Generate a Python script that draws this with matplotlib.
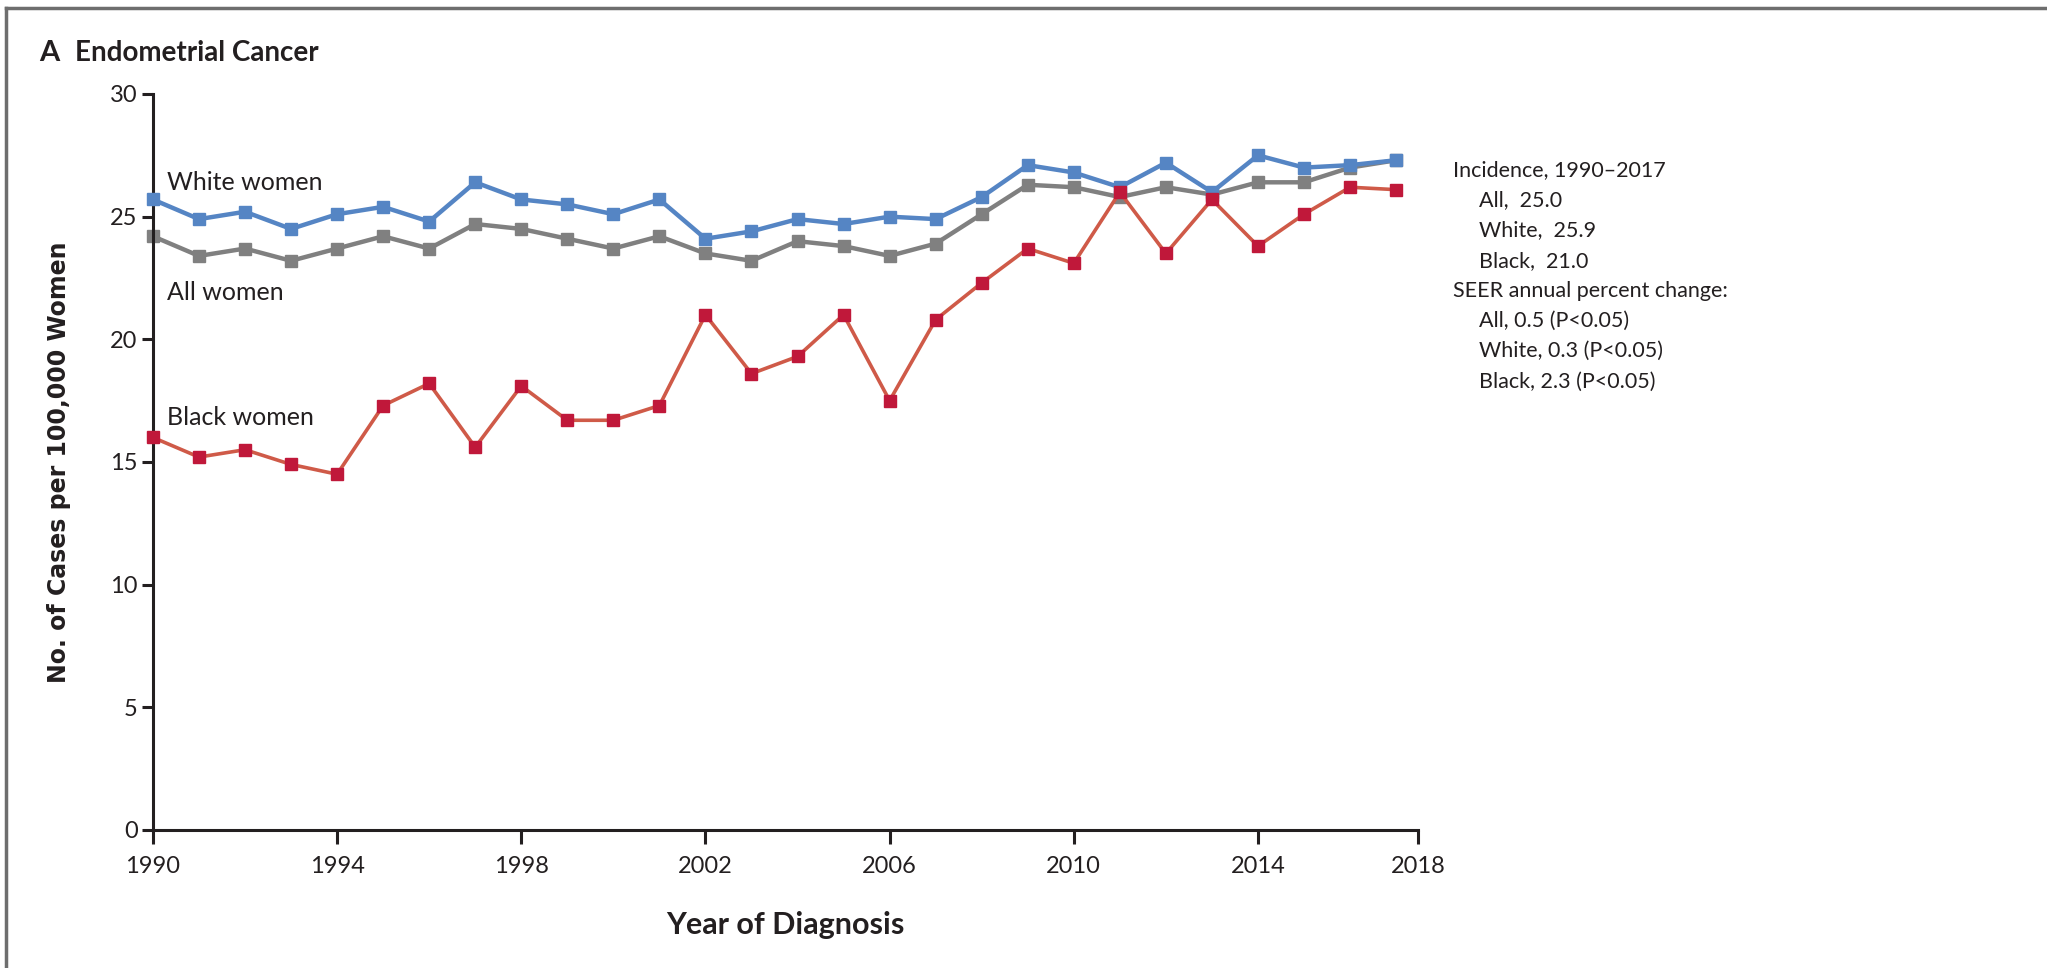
import matplotlib
matplotlib.use("Agg")
import matplotlib.pyplot as plt
from matplotlib import font_manager as fm
from matplotlib.lines import Line2D

years = list(range(1990, 2018))

white = [25.7, 24.9, 25.2, 24.5, 25.1, 25.4, 24.8, 26.4, 25.7, 25.5,
         25.1, 25.7, 24.1, 24.4, 24.9, 24.7, 25.0, 24.9, 25.8, 27.1,
         26.8, 26.2, 27.2, 26.0, 27.5, 27.0, 27.1, 27.3]
all_women = [24.2, 23.4, 23.7, 23.2, 23.7, 24.2, 23.7, 24.7, 24.5, 24.1,
             23.7, 24.2, 23.5, 23.2, 24.0, 23.8, 23.4, 23.9, 25.1, 26.3,
             26.2, 25.8, 26.2, 25.9, 26.4, 26.4, 27.0, 27.3]
black = [16.0, 15.2, 15.5, 14.9, 14.5, 17.3, 18.2, 15.6, 18.1, 16.7,
         16.7, 17.3, 21.0, 18.6, 19.3, 21.0, 17.5, 20.8, 22.3, 23.7,
         23.1, 26.0, 23.5, 25.7, 23.8, 25.1, 26.2, 26.1]

xtick_pos = [1990, 1994, 1998, 2002, 2006, 2010, 2014, 2017.47]
xtick_labels = ["1990", "1994", "1998", "2002", "2006", "2010", "2014", "2018"]
yticks = [0, 5, 10, 15, 20, 25, 30]

legend_lines = [
    ("Incidence, 1990\u20132017", 0),
    ("All,  25.0", 1),
    ("White,  25.9", 1),
    ("Black,  21.0", 1),
    ("SEER annual percent change:", 0),
    ("All, 0.5 (P<0.05)", 1),
    ("White, 0.3 (P<0.05)", 1),
    ("Black, 2.3 (P<0.05)", 1),
]


def pick_font(names):
    for n in names:
        try:
            fm.findfont(fm.FontProperties(family=n), fallback_to_default=False)
            return n
        except Exception:
            pass
    return "DejaVu Sans"


body = pick_font(["Liberation Sans Narrow", "Lato", "Open Sans"])
plt.rcParams["font.family"] = [body, "DejaVu Sans"]

txt = "#231f20"
blue = "#5585c4"
grey = "#808080"
red_line = "#cf5a48"
red_mark = "#c0183a"

fig = plt.figure(figsize=(20.47, 9.68), dpi=100)
ax = fig.add_axes([0.0747, 0.1426, 0.6179, 0.7603])

ax.plot(years, white, color=blue, lw=3.2, marker="s", ms=9,
        mfc=blue, mec=blue, zorder=3, clip_on=False)
ax.plot(years, all_women, color=grey, lw=3.2, marker="s", ms=9,
        mfc=grey, mec=grey, zorder=2, clip_on=False)
ax.plot(years, black, color=red_line, lw=2.6, marker="s", ms=9,
        mfc=red_mark, mec=red_mark, zorder=4, clip_on=False)

ax.set_xlim(1990, 2017.47)
ax.set_ylim(0, 30)
ax.set_xticks(xtick_pos)
ax.set_xticklabels(xtick_labels)
ax.set_yticks(yticks)

for s in ["top", "right"]:
    ax.spines[s].set_visible(False)
for s in ["left", "bottom"]:
    ax.spines[s].set_linewidth(2.2)
    ax.spines[s].set_color(txt)

ax.tick_params(axis="x", direction="out", length=10, width=2.2,
               colors=txt, labelsize=17, pad=9)
ax.tick_params(axis="y", direction="out", length=8, width=2.2,
               colors=txt, labelsize=17, pad=3)

ax.set_xlabel("Year of Diagnosis", fontsize=22, fontweight="bold",
              color=txt, labelpad=24)
ax.set_ylabel("No. of Cases per 100,000 Women", fontsize=17,
              fontweight="bold", family="DejaVu Sans", color=txt,
              labelpad=28)

# series labels
ax.text(1990.3, 26.4, "White women", fontsize=18, color=txt, va="center")
ax.text(1990.3, 21.9, "All women", fontsize=18, color=txt, va="center")
ax.text(1990.3, 16.8, "Black women", fontsize=18, color=txt, va="center")

# title
fig.text(0.019, 0.945, "A", fontsize=21, fontweight="bold", color=txt,
         va="center")
fig.text(0.0365, 0.945, "Endometrial Cancer", fontsize=20,
         fontweight="bold", color=txt, va="center")

# incidence / APC notes
y0 = 1 - 170 / 968
dy = 30.2 / 968
for i, (line, indent) in enumerate(legend_lines):
    x = (1453 + 26 * indent) / 2047
    fig.text(x, y0 - i * dy, line, fontsize=15.5, color=txt, va="center")

# panel frame (top and left edges)
fig.add_artist(Line2D([0.003, 1.0], [1 - 8 / 968, 1 - 8 / 968],
                      transform=fig.transFigure, color="#6e6e6e", lw=2.5))
fig.add_artist(Line2D([0.003, 0.003], [0.0, 1 - 8 / 968],
                      transform=fig.transFigure, color="#6e6e6e", lw=2.5))

fig.savefig("out.png", dpi=100)
